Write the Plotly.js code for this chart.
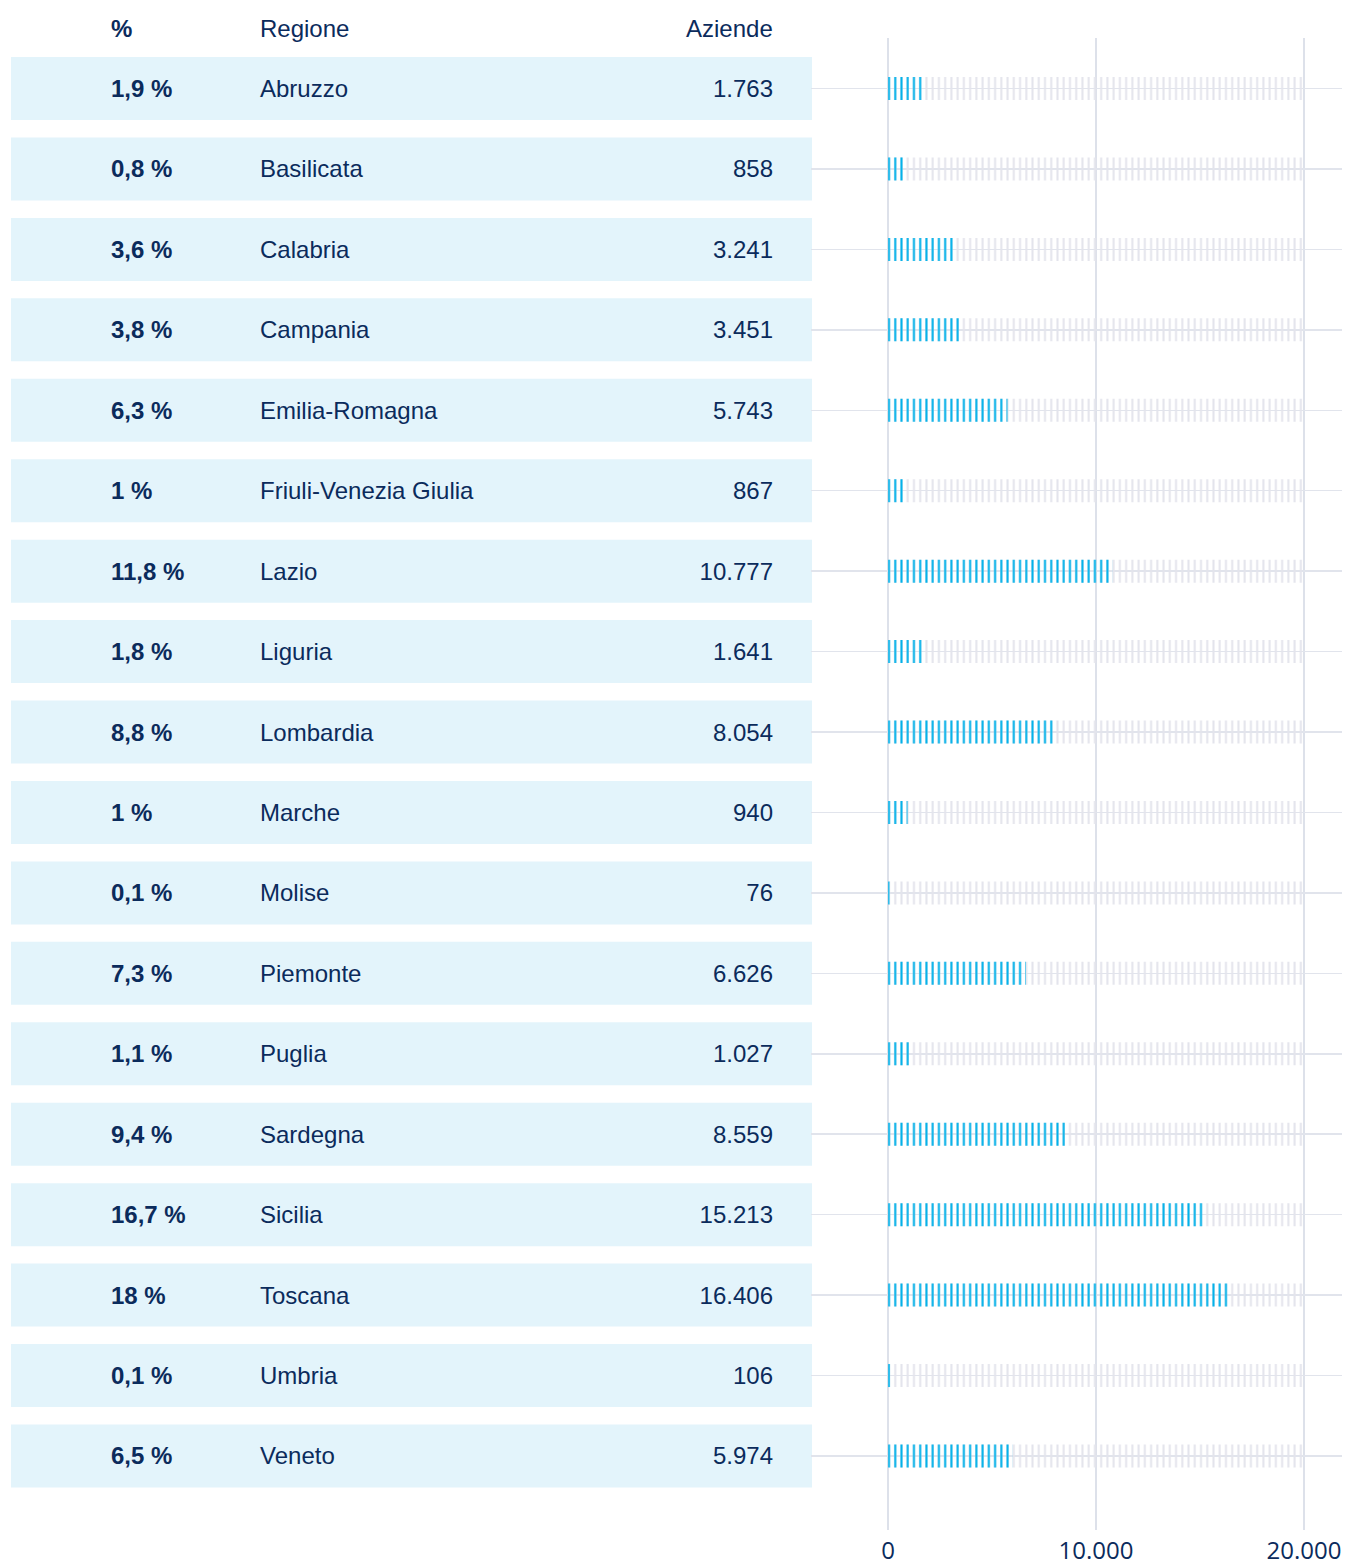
<!DOCTYPE html>
<html>
<head>
<meta charset="utf-8">
<script src="https://cdn.plot.ly/plotly-3.0.1.min.js"></script>
<style>
html,body{margin:0;padding:0;background:#ffffff;}
#chart{width:1345px;height:1566px;}
</style>
</head>
<body>
<div id="chart"></div>
<script>
// ---- data ----
const regions = ['Abruzzo','Basilicata','Calabria','Campania','Emilia-Romagna','Friuli-Venezia Giulia','Lazio','Liguria','Lombardia','Marche','Molise','Piemonte','Puglia','Sardegna','Sicilia','Toscana','Umbria','Veneto'];
const percentages = [1.9, 0.8, 3.6, 3.8, 6.3, 1, 11.8, 1.8, 8.8, 1, 0.1, 7.3, 1.1, 9.4, 16.7, 18, 0.1, 6.5];
const companies = [1763, 858, 3241, 3451, 5743, 867, 10777, 1641, 8054, 940, 76, 6626, 1027, 8559, 15213, 16406, 106, 5974];
const headers = ['%', 'Regione', 'Aziende'];
const axisTickValues = [0, 10000, 20000];
const scaleMax = 20000;

// ---- styling ----
const NAVY = '#0b2b5c';
const BAND = '#e3f4fb';
const BLUE = '#00b2ea';
const GREY_STRIPE = '#e3e4ec';
const GRID = '#dde1ea';
const FONT = 'Liberation Sans, Arial, sans-serif';
const W = 1345, H = 1566;
const colPct = 0.1248, colName = 0.3109, colNum = 0.9513;
const yRange = [17.92, -0.628];
const textShift = 0.031;
const yRangeText = [yRange[0] - textShift, yRange[1] - textShift];

function fmtInt(n){ return String(n).replace(/\B(?=(\d{3})+(?!\d))/g, '.'); }
function fmtPct(p){ return String(p).replace('.', ',') + ' %'; }
const same = v => regions.map(() => v);

const traces = [
  { type:'bar', orientation:'h', x: same(1), y: regions, xaxis:'x', yaxis:'y',
    marker:{color:BAND, line:{width:0}}, width:0.783, hoverinfo:'skip', showlegend:false },
  { type:'scatter', mode:'text', x: same(colPct), y: regions, xaxis:'x', yaxis:'y3',
    text: percentages.map(fmtPct), textposition:'middle right', cliponaxis:false,
    textfont:{family:FONT, size:24, color:NAVY, weight:'bold'}, hoverinfo:'skip', showlegend:false },
  { type:'scatter', mode:'text', x: same(colName), y: regions, xaxis:'x', yaxis:'y3',
    text: regions, textposition:'middle right', cliponaxis:false,
    textfont:{family:FONT, size:24, color:NAVY}, hoverinfo:'skip', showlegend:false },
  { type:'scatter', mode:'text', x: same(colNum), y: regions, xaxis:'x', yaxis:'y3',
    text: companies.map(fmtInt), textposition:'middle left', cliponaxis:false,
    textfont:{family:FONT, size:24, color:NAVY}, hoverinfo:'skip', showlegend:false },
  { type:'bar', orientation:'h', x: same(scaleMax), y: regions, xaxis:'x2', yaxis:'y2',
    width:0.286, hoverinfo:'skip', showlegend:false,
    marker:{color:GREY_STRIPE, line:{width:0},
      pattern:{shape:'|', size:6.24, solidity:0.32, fgcolor:GREY_STRIPE, fgopacity:1, bgcolor:'rgba(0,0,0,0)', fillmode:'replace'}} },
  { type:'bar', orientation:'h', x: companies, y: regions, xaxis:'x2', yaxis:'y2',
    width:0.286, hoverinfo:'skip', showlegend:false,
    marker:{color:BLUE, line:{width:0},
      pattern:{shape:'|', size:6.24, solidity:0.32, fgcolor:BLUE, fgopacity:1, bgcolor:'rgba(0,0,0,0)', fillmode:'replace'}} }
];

const headerY = 1 + (38 - 28) / (H - 38 - 36);
const layout = {
  width: W, height: H,
  margin:{l:0, r:0, t:38, b:36},
  paper_bgcolor:'#ffffff', plot_bgcolor:'rgba(0,0,0,0)',
  separators:',.',
  barmode:'overlay',
  hovermode:false,
  showlegend:false,
  font:{family:FONT, color:NAVY},
  xaxis:{domain:[11/W, 812/W], range:[0,1], visible:false, fixedrange:true},
  yaxis:{domain:[0,1], type:'category', range:yRange, visible:false, fixedrange:true},
  yaxis3:{overlaying:'y', anchor:'x', type:'category', range:yRangeText, visible:false, fixedrange:true},
  xaxis2:{domain:[811/W, 1342/W], anchor:'y2', range:[-3701.9, 21826.9],
    tickvals: axisTickValues, tickformat:',d', showgrid:true, gridcolor:GRID, gridwidth:1.5,
    zeroline:false, showline:false, ticks:'', ticklabelstandoff:4, automargin:false,
    tickfont:{family:'Open Sans, sans-serif', size:24, color:NAVY}, fixedrange:true},
  yaxis2:{domain:[0,1], anchor:'x2', type:'category', range:yRange,
    showgrid:true, gridcolor:'#e1e4ec', gridwidth:1.5, showticklabels:false, ticks:'',
    zeroline:false, showline:false, fixedrange:true},
  annotations:[
    {text:headers[0], xref:'x', yref:'paper', x:colPct, y:headerY, xanchor:'left', yanchor:'middle', xshift:-2,
     showarrow:false, font:{family:FONT, size:24, color:NAVY, weight:'bold'}},
    {text:headers[1], xref:'x', yref:'paper', x:colName, y:headerY, xanchor:'left', yanchor:'middle', xshift:-2,
     showarrow:false, font:{family:FONT, size:24, color:NAVY}},
    {text:headers[2], xref:'x', yref:'paper', x:colNum, y:headerY, xanchor:'right', yanchor:'middle', xshift:2,
     showarrow:false, font:{family:FONT, size:24, color:NAVY}}
  ]
};

Plotly.newPlot('chart', traces, layout, {displayModeBar:false, staticPlot:true});
</script>
</body>
</html>
